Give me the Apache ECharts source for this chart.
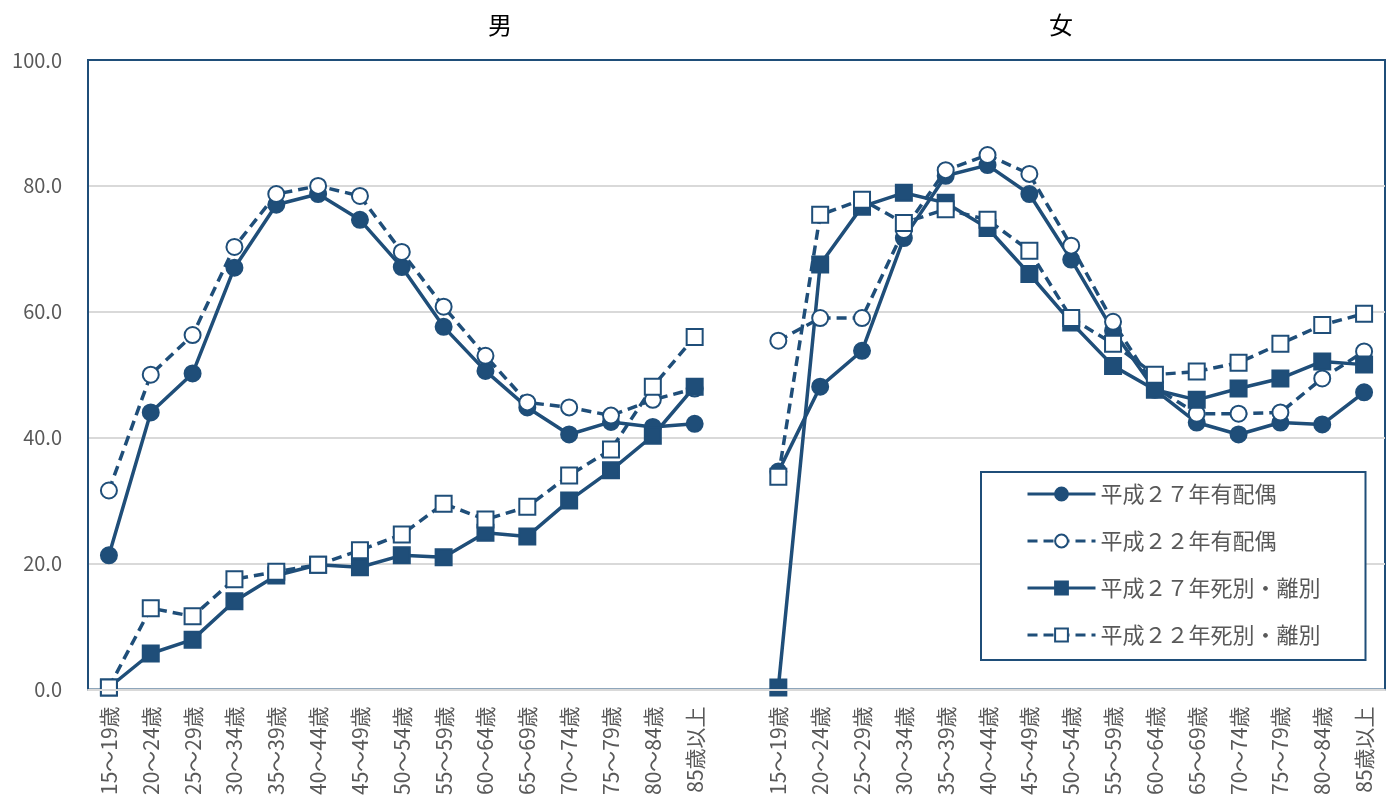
<!DOCTYPE html>
<html><head><meta charset="utf-8">
<script src="https://cdn.jsdelivr.net/npm/echarts@6/dist/echarts.min.js"></script>
<style>html,body{margin:0;padding:0;background:#fff}#c{width:1389px;height:798px}</style>
</head><body><div id="c"></div>
<script>
const ageGroups = ['15～19歳','20～24歳','25～29歳','30～34歳','35～39歳','40～44歳','45～49歳','50～54歳','55～59歳','60～64歳','65～69歳','70～74歳','75～79歳','80～84歳','85歳以上'];
const seriesNames = ['平成２７年有配偶','平成２２年有配偶','平成２７年死別・離別','平成２２年死別・離別'];
const yTicks = [0,20,40,60,80,100];

const maleH27Married  = [21.3,44.0,50.2,67.0,77.0,78.7,74.6,67.1,57.6,50.6,44.8,40.5,42.5,41.7,42.2];
const maleH22Married  = [31.6,50.0,56.3,70.3,78.7,80.0,78.4,69.5,60.8,53.0,45.6,44.8,43.5,46.0,47.8];
const maleH27Widowed  = [0.3,5.7,7.9,14.0,18.1,19.8,19.4,21.3,21.0,24.9,24.3,30.0,34.8,40.3,48.1];
const maleH22Widowed  = [0.3,12.9,11.6,17.5,18.7,19.8,22.1,24.6,29.5,27.0,29.0,34.0,38.1,48.1,56.0];

const femaleH27Married = [34.6,48.1,53.8,71.7,81.6,83.3,78.7,68.3,57.0,47.6,42.4,40.5,42.4,42.1,47.2];
const femaleH22Married = [55.4,59.0,59.0,73.0,82.5,84.9,81.9,70.5,58.4,48.0,43.8,43.8,44.0,49.4,53.7];
const femaleH27Widowed = [0.3,67.5,76.7,78.9,77.3,73.3,66.0,58.3,51.4,47.6,46.0,47.8,49.4,52.1,51.6];
const femaleH22Widowed = [33.8,75.4,77.8,74.1,76.3,74.6,69.7,59.0,54.9,50.0,50.5,51.9,54.9,57.9,59.7];

const categories = ageGroups.concat([''], ageGroups);
const join = (m, f) => m.concat(['-'], f);

const C = '#1F4E79';
const G = '#D9D9D9';
const FONT = '"Noto Sans CJK JP", "Noto Sans", sans-serif';

function mk(name, m, f, solid, filled, sym) {
  return {
    name: name, type: 'line', data: join(m, f),
    symbol: sym, symbolSize: 16,
    connectNulls: false,
    lineStyle: { color: C, width: 3.5, type: solid ? 'solid' : [10, 6] },
    itemStyle: { color: filled ? C : '#fff', borderColor: C, borderWidth: 2 },
    emphasis: { disabled: true }
  };
}

const chart = echarts.init(document.getElementById('c'));
chart.setOption({
  animation: false,
  backgroundColor: '#fff',
  textStyle: { fontFamily: FONT },
  title: [
    { text: '男', left: 483, top: 8, textStyle: { fontSize: 24, fontWeight: 'normal', color: '#000', fontFamily: FONT } },
    { text: '女', left: 1044, top: 8, textStyle: { fontSize: 24, fontWeight: 'normal', color: '#000', fontFamily: FONT } }
  ],
  grid: { left: 88, right: 4, top: 60, bottom: 108, show: true, borderColor: C, borderWidth: 2, backgroundColor: 'transparent' },
  legend: {
    orient: 'vertical', left: 981, top: 472,
    padding: [10, 45, 13, 45],
    itemGap: 23, itemWidth: 68, itemHeight: 16,
    backgroundColor: '#fff', borderColor: C, borderWidth: 2, borderRadius: 0,
    lineStyle: { width: 3 },
    textStyle: { fontSize: 22, lineHeight: 24, color: '#595959', fontFamily: FONT },
    data: seriesNames
  },
  xAxis: {
    type: 'category', data: categories, boundaryGap: true,
    axisLine: { show: true, lineStyle: { color: G, width: 2 } },
    axisTick: { show: false },
    axisLabel: { interval: 0, rotate: 90, fontSize: 21, color: '#595959', margin: 17, fontFamily: FONT },
    z: 5
  },
  yAxis: {
    type: 'value', min: 0, max: 100, interval: 20,
    axisLine: { show: true, lineStyle: { color: C, width: 2 } },
    axisTick: { show: false },
    axisLabel: { fontSize: 20, color: '#595959', margin: 26, formatter: v => v.toFixed(1) },
    splitLine: { lineStyle: { color: [G, G, G, G, G, C], width: 2 } }
  },
  series: [
    mk(seriesNames[0], maleH27Married, femaleH27Married, true, true, 'circle'),
    mk(seriesNames[1], maleH22Married, femaleH22Married, false, false, 'circle'),
    mk(seriesNames[2], maleH27Widowed, femaleH27Widowed, true, true, 'rect'),
    mk(seriesNames[3], maleH22Widowed, femaleH22Widowed, false, false, 'rect')
  ]
});
</script></body></html>
